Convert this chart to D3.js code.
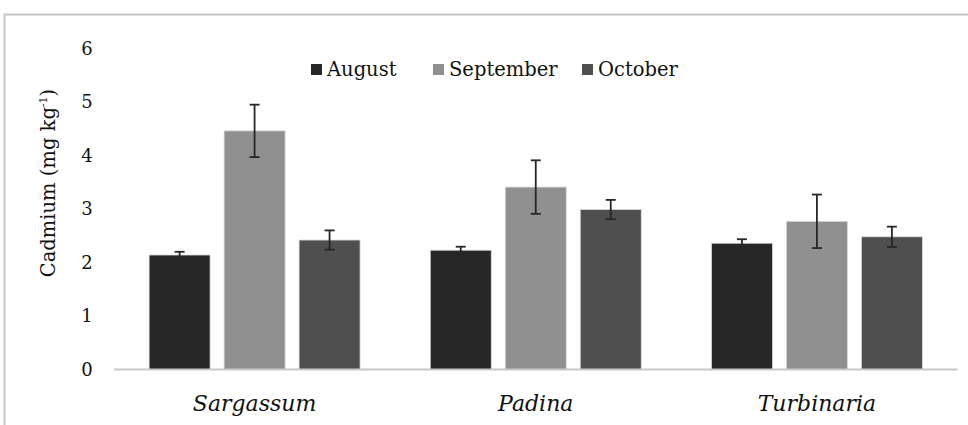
<!DOCTYPE html>
<html><head><meta charset="utf-8">
<script src="https://cdn.jsdelivr.net/npm/d3@7"></script>
<style>
html,body{margin:0;padding:0;background:#fff;}
svg{display:block;}
text{font-family:"DejaVu Serif","Liberation Serif",serif;fill:#111;}
</style></head>
<body>
<svg id="chart" width="968" height="425"></svg>
<script>
const categories = ["Sargassum", "Padina", "Turbinaria"];
const seriesNames = ["August", "September", "October"];
const august = [2.14, 2.23, 2.36];
const september = [4.46, 3.41, 2.77];
const october = [2.42, 2.99, 2.48];
const augustErr = [0.06, 0.065, 0.075];
const septemberErr = [0.49, 0.5, 0.5];
const octoberErr = [0.18, 0.18, 0.19];
const yTicks = [0, 1, 2, 3, 4, 5, 6];
const colors = ["#272727", "#909090", "#4f4f4f"];

const values = [august, september, october];
const errors = [augustErr, septemberErr, octoberErr];

const svg = d3.select("#chart");

// outer frame
svg.append("path").attr("d", "M4.5,425 L4.5,14.5 L968,14.5")
  .attr("fill", "none").attr("stroke", "#c6c6c6").attr("stroke-width", 2);

const x0 = d3.scaleBand().domain(categories).range([114, 957.5]).paddingInner(0).paddingOuter(0);
const x1 = d3.scaleBand().domain(seriesNames).range([0, x0.bandwidth()]).paddingInner(0.1867).paddingOuter(0.468);
const y = d3.scaleLinear().domain([0, 6]).range([369.5, 48.5]);

// y tick labels
svg.append("g").selectAll("text").data(yTicks).join("text")
  .attr("x", 87).attr("y", d => y(d)).attr("dy", "0.35em")
  .attr("text-anchor", "middle").attr("font-size", 18)
  .text(d => d);

// y title
const yt = svg.append("text")
  .attr("transform", "translate(55,183) rotate(-90)")
  .attr("text-anchor", "middle").attr("font-size", 19.5);
yt.append("tspan").text("Cadmium (mg kg");
yt.append("tspan").attr("font-size", 11).attr("dy", -8).text("-1");
yt.append("tspan").attr("dy", 8).text(")");

// bars
const groups = svg.append("g").selectAll("g").data(categories).join("g")
  .attr("transform", d => `translate(${x0(d)},0)`);

groups.each(function(cat, ci) {
  const g = d3.select(this);
  seriesNames.forEach((s, si) => {
    const v = values[si][ci];
    g.append("rect")
      .attr("x", x1(s)).attr("width", x1.bandwidth())
      .attr("y", y(v)).attr("height", y(0) - y(v))
      .attr("fill", colors[si]).attr("stroke", "#d9d9d9").attr("stroke-width", 0.8);
  });
});

// x axis line
svg.append("line").attr("x1", 114).attr("x2", 957.5).attr("y1", 369.5).attr("y2", 369.5)
  .attr("stroke", "#c8c8c8").attr("stroke-width", 2);

// error bars
groups.each(function(cat, ci) {
  const g = d3.select(this);
  seriesNames.forEach((s, si) => {
    const v = values[si][ci], e = errors[si][ci];
    const cx = x1(s) + x1.bandwidth() / 2;
    g.append("line").attr("x1", cx).attr("x2", cx).attr("y1", y(v + e)).attr("y2", y(v - e))
      .attr("stroke", "#262626").attr("stroke-width", 1.8);
    [v + e, v - e].forEach(t => {
      g.append("line").attr("x1", cx - 5).attr("x2", cx + 5).attr("y1", y(t)).attr("y2", y(t))
        .attr("stroke", "#262626").attr("stroke-width", 1.8);
    });
  });
});

// x labels
svg.append("g").selectAll("text").data(categories).join("text")
  .attr("x", d => x0(d) + x0.bandwidth() / 2).attr("y", 411)
  .attr("text-anchor", "middle").attr("font-size", 22).attr("font-style", "italic")
  .text(d => d);

// legend
const legendX = [311, 433, 582];
const lg = svg.append("g").selectAll("g").data(seriesNames).join("g")
  .attr("transform", (d, i) => `translate(${legendX[i]},64)`);
lg.append("rect").attr("width", 11).attr("height", 11).attr("fill", (d, i) => colors[i]);
lg.append("text").attr("x", 16).attr("y", 5.5).attr("dy", "0.35em").attr("font-size", 19.5).text(d => d);
</script>
</body></html>
